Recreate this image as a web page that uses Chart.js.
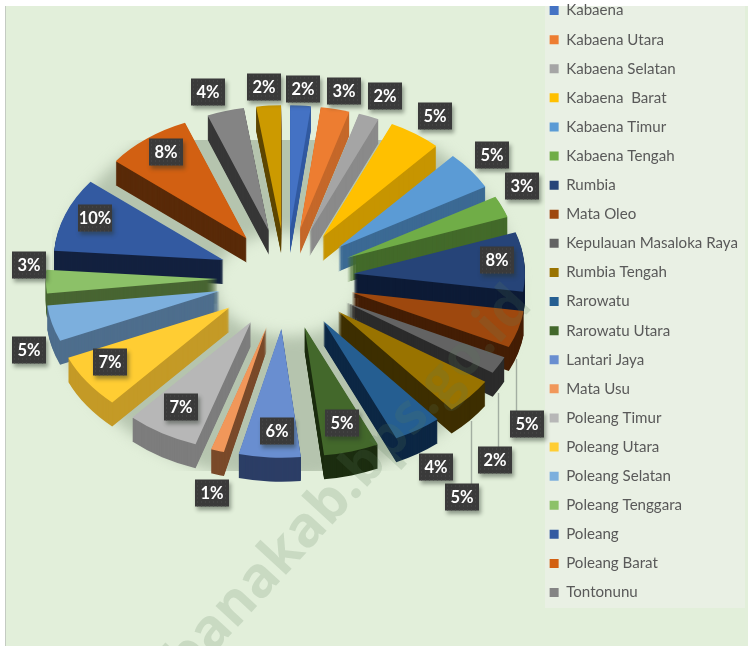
<!DOCTYPE html>
<html><head><meta charset="utf-8">
<style>
html,body{margin:0;padding:0;background:#fff;width:748px;height:646px;overflow:hidden}
#bg{position:absolute;left:5px;top:6px;width:743px;height:640px;background:#e2efda;border-left:1px solid #c4cbc2;box-sizing:border-box}
#panel{position:absolute;left:545px;top:6px;width:200px;height:602px;background:#e9f0e4}
canvas{position:absolute;left:0;top:0}
</style>
<script src="https://cdn.jsdelivr.net/npm/chart.js@4"></script>
</head><body>
<div id="bg"></div><div id="panel"></div>
<canvas id="c" width="748" height="646"></canvas>
<script>
const categories = ["Kabaena","Kabaena Utara","Kabaena Selatan","Kabaena  Barat","Kabaena Timur","Kabaena Tengah","Rumbia","Mata Oleo","Kepulauan Masaloka Raya","Rumbia Tengah","Rarowatu","Rarowatu Utara","Lantari Jaya","Mata Usu","Poleang Timur","Poleang Utara","Poleang Selatan","Poleang Tenggara","Poleang","Poleang Barat","Tontonunu",""];
const shares = [2,2.8,2,5.1,5,2.8,7.6,4.7,2.2,4.6,4.4,5,5.6,1.2,6.6,6.9,4.6,3,9.5,8.3,3.6,2.4];
const topColors = ["#4472c4","#ed7d31","#a5a5a5","#ffc000","#5b9bd5","#70ad47","#264478","#9e480e","#636363","#997300","#255e91","#43682b","#698ed0","#f1975a","#b7b7b7","#ffcd33","#7cafdd","#8cc168","#335aa1","#d26012","#848484","#cc9a00"];
const sideColors = ["#335aa0","#c5682a","#8a8a8a","#c79500","#3c6a94","#436a2a","#0d1b36","#441e05","#2b2b2b","#3d2e00","#0c2744","#1c2d10","#2c3e66","#7a4a2a","#7d7d7d","#c49a26","#4e6e8d","#486532","#13213f","#592a08","#373737","#5e4700"];
const labelSpots = [[303,89],[344,91],[385,96],[435,116],[492,155],[522,186],[497,260],[527,424],[495,460],[462,497],[436,467],[342,423],[277,431],[212,493],[181,407],[110,362],[29,350],[29,265],[95,218],[166,152],[208,92],[264,87]];
const leaders = [[516,359,516,411],[498,393,498,447],[471,421,471,484]];

const CX = 286, CY = 278, SQUASH = 0.735, DEPTH = 24, EXPLODE = 68, WIDEN = 0.035, TALLEN = 0.02;

const pie3d = {
  id:'pie3d',
  beforeDatasetsDraw(chart){
    const ctx = chart.ctx, arcs = chart.getDatasetMeta(0).data;
    // floor shadow
    ctx.save();
    ctx.beginPath(); ctx.rect(52,140,500,331); ctx.clip();
    ctx.filter='blur(7px)';
    ctx.fillStyle='#b5c4ae';
    ctx.beginPath();
    ctx.ellipse(285,292,232,188,0,0,Math.PI*2);
    ctx.ellipse(288,284,74,52,0,0,Math.PI*2);
    ctx.fill('evenodd');
    ctx.restore();
    // slices painted from back to front
    const mid = a => (a.startAngle+a.endAngle)/2;
    const order = arcs.map((a,i)=>i).sort((p,q)=>Math.sin(mid(arcs[p]))-Math.sin(mid(arcs[q])));
    order.forEach(i=>{
      const a = arcs[i], own = a.options, m = mid(a), near = Math.sin(m);
      const place = d => {
        ctx.save();
        ctx.translate(CX,CY+d);
        ctx.scale(1+WIDEN*near,SQUASH*(1+TALLEN*near));
        ctx.translate(Math.cos(m)*EXPLODE-a.x,Math.sin(m)*EXPLODE-a.y);
      };
      a.options = Object.assign({},own,{backgroundColor:sideColors[i]});
      for(let d=DEPTH;d>=1;d--){ place(d); a.draw(ctx); ctx.restore(); }
      a.options = own;
      place(0); a.draw(ctx); ctx.restore();
    });
    return false;
  },
  afterDraw(chart){
    const ctx = chart.ctx, total = shares.reduce((s,v)=>s+v,0);
    // watermark
    ctx.save();
    ctx.translate(522,296);
    ctx.rotate(-Math.PI/4*1.05);
    ctx.textAlign='right'; ctx.textBaseline='middle';
    ctx.font='bold 56px "Open Sans"';
    ctx.fillStyle='rgba(90,120,90,0.18)';
    ctx.fillText('bombanakab.bps.go.id',0,0);
    ctx.restore();
    // leader lines
    ctx.save();
    ctx.strokeStyle='#a3aea2'; ctx.lineWidth=1.4;
    leaders.forEach(l=>{ctx.beginPath();ctx.moveTo(l[0]+.5,l[1]);ctx.lineTo(l[2]+.5,l[3]);ctx.stroke();});
    ctx.restore();
    // value labels
    labelSpots.forEach((p,i)=>{
      const w=34,h=27,x=p[0]-w/2,y=p[1]-h/2;
      ctx.save();
      ctx.shadowColor='rgba(40,50,40,0.45)';ctx.shadowBlur=4;ctx.shadowOffsetX=2;ctx.shadowOffsetY=3;
      ctx.fillStyle='#3a3a3a';ctx.fillRect(x,y,w,h);
      ctx.restore();
      ctx.fillStyle='#4c4c4c';
      for(let yy=y+2;yy<y+h;yy+=4)for(let xx=x+2;xx<x+w;xx+=4)ctx.fillRect(xx,yy,1,1);
      ctx.fillStyle='#fff';
      ctx.font='bold 16.5px Lato';
      ctx.textAlign='center';ctx.textBaseline='middle';
      ctx.fillText(Math.round(shares[i]/total*100)+'%',p[0],p[1]+.5);
    });
  }
};

new Chart(document.getElementById('c'),{
  type:'pie',
  data:{labels:categories,datasets:[{data:shares,backgroundColor:topColors,borderWidth:0}]},
  options:{
    responsive:false,animation:false,radius:172,
    layout:{padding:{top:-11,left:0,right:0,bottom:0}},
    plugins:{
      tooltip:{enabled:false},
      legend:{
        position:'right',align:'start',
        labels:{boxWidth:9,boxHeight:9,padding:14,color:'#595959',font:{family:'Lato',size:15.1},
          filter:item=>item.text!==''}
      }
    }
  },
  plugins:[pie3d]
});
</script>
</body></html>
